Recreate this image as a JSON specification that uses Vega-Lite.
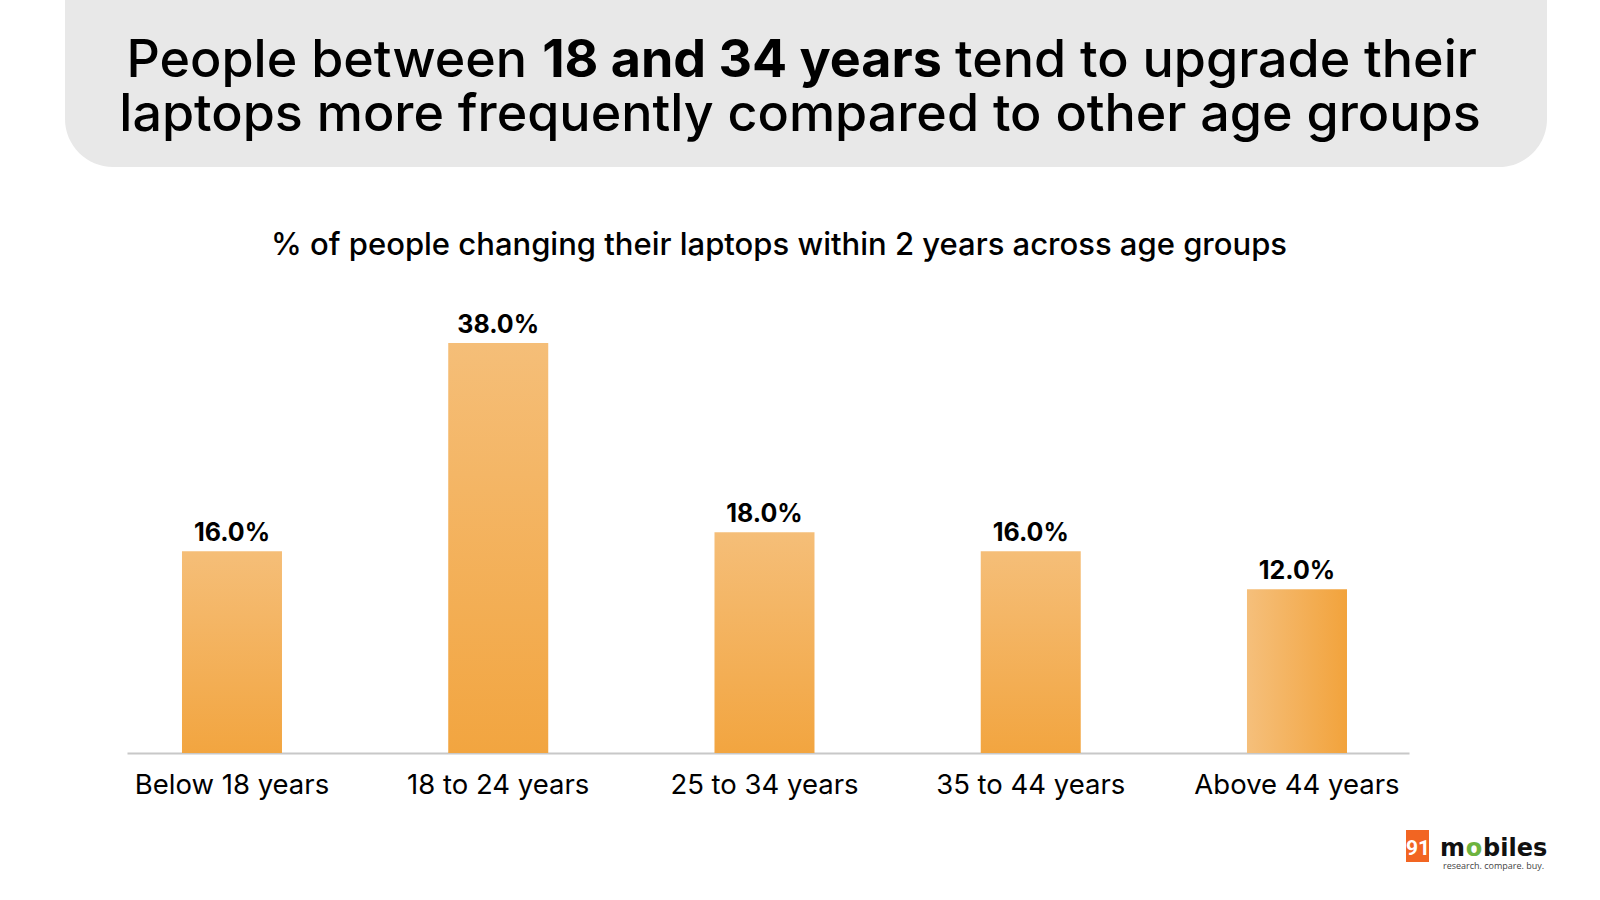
{
  "$schema": "https://vega.github.io/schema/vega-lite/v6.json",
  "background": "white",
  "padding": {"left": 65, "top": -60, "right": 53, "bottom": 0},
  "config": {
    "font": "Inter",
    "view": {"stroke": null},
    "text": {"color": "#000000"}
  },
  "bounds": "flush",
  "spacing": 138,
  "vconcat": [
    {
      "width": 1482,
      "height": 227,
      "view": {"fill": "#e8e8e8", "stroke": null, "cornerRadius": 48},
      "layer": [
        {
          "data": {"values": [{"t": "People between"}]},
          "mark": {"type": "text", "align": "right", "baseline": "alphabetic", "fontSize": 52, "fontWeight": 500, "dx": -279, "dy": 23},
          "encoding": {"text": {"field": "t"}}
        },
        {
          "data": {"values": [{"t": "18 and 34 years"}]},
          "mark": {"type": "text", "align": "center", "baseline": "alphabetic", "fontSize": 52, "fontWeight": 700, "dx": -64, "dy": 23},
          "encoding": {"text": {"field": "t"}}
        },
        {
          "data": {"values": [{"t": "tend to upgrade their"}]},
          "mark": {"type": "text", "align": "left", "baseline": "alphabetic", "fontSize": 52, "fontWeight": 500, "dx": 149, "dy": 23},
          "encoding": {"text": {"field": "t"}}
        },
        {
          "data": {"values": [{"t": "laptops more frequently compared to other age groups"}]},
          "mark": {"type": "text", "align": "center", "baseline": "alphabetic", "fontSize": 52, "fontWeight": 500, "dx": -6, "dy": 77},
          "encoding": {"text": {"field": "t"}}
        }
      ]
    },
    {
      "bounds": "flush",
      "spacing": 77,
      "vconcat": [
        {
          "width": 1482,
          "height": 448,
          "title": {
            "text": "% of people changing their laptops within 2 years across age groups",
            "frame": "group",
            "anchor": "middle",
            "baseline": "alphabetic",
            "offset": 19,
            "dx": -27,
            "fontSize": 31,
            "fontWeight": 500,
            "color": "#000000"
          },
          "data": {
            "values": [
              {"age": "Below 18 years", "pct": 16.0},
              {"age": "18 to 24 years", "pct": 38.0},
              {"age": "25 to 34 years", "pct": 18.0},
              {"age": "35 to 44 years", "pct": 16.0},
              {"age": "Above 44 years", "pct": 12.0}
            ]
          },
          "encoding": {
            "x": {
              "field": "age",
              "type": "nominal",
              "sort": null,
              "scale": {"range": [62, 1344], "paddingInner": 0.6244, "paddingOuter": 0.2197, "align": 0.47},
              "axis": {
                "title": null,
                "ticks": false,
                "tickSize": 0,
                "labelAngle": 0,
                "labelFontSize": 27.5,
                "labelFont": "Inter",
                "labelColor": "#000000",
                "labelBaseline": "alphabetic",
                "labelPadding": 40,
                "labelLimit": 400,
                "domainColor": "#c8c8c8",
                "domainWidth": 2,
                "grid": false
              }
            },
            "y": {
              "field": "pct",
              "type": "quantitative",
              "scale": {"domain": [-5.3, 42], "zero": false, "nice": false},
              "axis": null
            }
          },
          "layer": [
            {
              "transform": [{"filter": "datum.age !== 'Above 44 years'"}],
              "mark": {
                "type": "bar",
                "color": {
                  "gradient": "linear",
                  "x1": 0, "y1": 0, "x2": 0, "y2": 1,
                  "stops": [
                    {"offset": 0, "color": "#F5BE78"},
                    {"offset": 1, "color": "#F2A540"}
                  ]
                }
              },
              "encoding": {"y2": {"datum": -5.3}}
            },
            {
              "transform": [{"filter": "datum.age === 'Above 44 years'"}],
              "mark": {
                "type": "bar",
                "color": {
                  "gradient": "linear",
                  "x1": 0, "y1": 0, "x2": 1, "y2": 0,
                  "stops": [
                    {"offset": 0, "color": "#F5BF7B"},
                    {"offset": 1, "color": "#F2A33C"}
                  ]
                }
              },
              "encoding": {"y2": {"datum": -5.3}}
            },
            {
              "transform": [{"calculate": "format(datum.pct, '.1f') + '%'", "as": "label"}],
              "mark": {"type": "text", "baseline": "alphabetic", "dy": -10, "fontSize": 25, "fontWeight": 700},
              "encoding": {"text": {"field": "label", "type": "nominal"}}
            }
          ]
        },
        {
          "width": 1482,
          "height": 40,
          "layer": [
            {
              "data": {"values": [{"part": "badge"}]},
              "mark": {"type": "point", "shape": "M-1,-1.39L1,-1.39L1,1.39L-1,1.39Z", "size": 529, "filled": true, "color": "#F26522", "opacity": 1, "xOffset": 611.5, "yOffset": -4}
            },
            {
              "data": {"values": [{"t": "91"}]},
              "mark": {"type": "text", "align": "center", "baseline": "alphabetic", "font": "Roboto", "fontSize": 21, "fontWeight": 700, "color": "#ffffff", "dx": 612, "dy": 5},
              "encoding": {"text": {"field": "t"}}
            },
            {
              "data": {"values": [{"t": "m"}]},
              "mark": {"type": "text", "align": "left", "baseline": "alphabetic", "font": "DejaVu Sans", "fontSize": 24, "fontWeight": 700, "color": "#111111", "dx": 634, "dy": 6},
              "encoding": {"text": {"field": "t"}}
            },
            {
              "data": {"values": [{"t": "o"}]},
              "mark": {"type": "text", "align": "center", "baseline": "alphabetic", "font": "DejaVu Sans", "fontSize": 24, "fontWeight": 700, "color": "#6DB33F", "dx": 668, "dy": 6},
              "encoding": {"text": {"field": "t"}}
            },
            {
              "data": {"values": [{"t": "biles"}]},
              "mark": {"type": "text", "align": "left", "baseline": "alphabetic", "font": "DejaVu Sans", "fontSize": 24, "fontWeight": 700, "color": "#111111", "dx": 677, "dy": 6},
              "encoding": {"text": {"field": "t"}}
            },
            {
              "data": {"values": [{"t": "research. compare. buy."}]},
              "mark": {"type": "text", "align": "left", "baseline": "alphabetic", "font": "Open Sans", "fontSize": 9, "color": "#444444", "dx": 637, "dy": 19},
              "encoding": {"text": {"field": "t"}}
            }
          ]
        }
      ]
    }
  ]
}
